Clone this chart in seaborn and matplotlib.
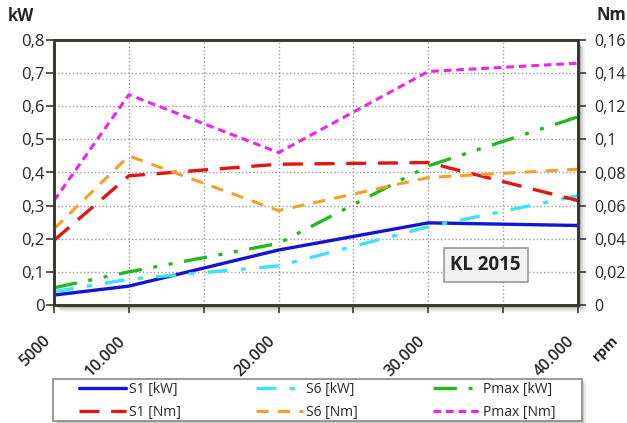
import pandas as pd
import matplotlib.pyplot as plt
import matplotlib.patches as mpatches
import seaborn as sns

# Data
rpm = [5000, 10000, 20000, 30000, 40000]
s1_kw = [0.030, 0.057, 0.166, 0.248, 0.240]
s6_kw = [0.040, 0.078, 0.118, 0.236, 0.330]
pmax_kw = [0.052, 0.100, 0.186, 0.420, 0.568]
s1_nm = [0.039, 0.078, 0.085, 0.086, 0.063]
s6_nm = [0.046, 0.090, 0.057, 0.077, 0.082]
pmax_nm = [0.063, 0.127, 0.092, 0.141, 0.146]

x_ticks = [5000, 10000, 20000, 30000, 40000]
x_labels = ["5000", "10.000", "20.000", "30.000", "40.000"]
kw_ticks = [0, 0.1, 0.2, 0.3, 0.4, 0.5, 0.6, 0.7, 0.8]
kw_labels = ["0", "0,1", "0,2", "0,3", "0,4", "0,5", "0,6", "0,7", "0,8"]
nm_ticks = [0, 0.02, 0.04, 0.06, 0.08, 0.10, 0.12, 0.14, 0.16]
nm_labels = ["0", "0,02", "0,04", "0,06", "0,08", "0,1", "0,12", "0,14", "0,16"]

df = pd.DataFrame({"rpm": rpm, "s1_kw": s1_kw, "s6_kw": s6_kw, "pmax_kw": pmax_kw,
                   "s1_nm": s1_nm, "s6_nm": s6_nm, "pmax_nm": pmax_nm})

plt.close("all")
sns.set_style("white")
plt.rcParams["font.family"] = ["Open Sans", "DejaVu Sans"]

W, H = 627, 423
fig = plt.figure(figsize=(W / 100, H / 100), dpi=100)
L, R, T, B = 54, 578, 40, 305
ax = fig.add_axes([L / W, 1 - B / H, (R - L) / W, (B - T) / H])
ax.set_zorder(2)


def shadow_box(x0, y0, x1, y1, offs=((7, 0.06), (5, 0.10), (3, 0.16))):
    # soft grey drop shadow, pixel coords from top-left
    for off, a in offs:
        fig.patches.append(mpatches.Rectangle(((x0 + off) / W, 1 - (y1 + off) / H),
                                              (x1 - x0) / W, (y1 - y0) / H,
                                              transform=fig.transFigure, fc="black",
                                              ec="none", alpha=a, zorder=0))


shadow_box(L, T, R, B)

ax2 = ax.twinx()

# kW series on left axis
sns.lineplot(data=df, x="rpm", y="s1_kw", ax=ax, color="#1414d2", lw=2.4, label="S1 [kW]")
sns.lineplot(data=df, x="rpm", y="s6_kw", ax=ax, color="#3ae4f2", lw=2.4,
             linestyle=(0, (6, 4, 1.5, 4)), label="S6 [kW]")
sns.lineplot(data=df, x="rpm", y="pmax_kw", ax=ax, color="#22b822", lw=2.4,
             linestyle=(0, (7, 3.5, 1.2, 3.5, 1.2, 3.5)), label="Pmax [kW]")
# Nm series on right axis
sns.lineplot(data=df, x="rpm", y="s1_nm", ax=ax2, color="#e31414", lw=2.4,
             linestyle=(0, (6, 3.5)), label="S1 [Nm]")
sns.lineplot(data=df, x="rpm", y="s6_nm", ax=ax2, color="#f5a023", lw=2.2,
             linestyle=(0, (4, 3)), label="S6 [Nm]")
sns.lineplot(data=df, x="rpm", y="pmax_nm", ax=ax2, color="#ec24ec", lw=2.2,
             linestyle=(0, (2.5, 1.6)), label="Pmax [Nm]")

ax.set_xlim(5000, 40000)
ax.set_ylim(0, 0.8)
ax2.set_ylim(0, 0.16)
ax.set_xticks(x_ticks)
ax.set_xticks([15000, 25000, 35000], minor=True)
ax.set_xticklabels(x_labels, rotation=45, ha="right", fontsize=11.5, fontweight="semibold")
ax.set_yticks(kw_ticks)
ax.set_yticklabels(kw_labels, fontsize=12)
ax2.set_yticks(nm_ticks)
ax2.set_yticklabels(nm_labels, fontsize=11.5)
ax.set_xlabel("")
ax.set_ylabel("")
ax2.set_ylabel("")

ax.grid(True, which="both", axis="x", color="#9a9a9a", linestyle=":", lw=1)
ax.grid(True, axis="y", color="#9a9a9a", linestyle=":", lw=1)
for a in (ax, ax2):
    for s in a.spines.values():
        s.set_color("#3a3a30")
        s.set_linewidth(2)
ax.tick_params(axis="both", which="both", direction="out", length=6, width=1.2,
               color="#3a3a30", left=True, bottom=True)
ax.tick_params(axis="x", pad=14)
ax.tick_params(axis="y", pad=1)
ax2.tick_params(axis="y", direction="out", length=6, width=1.2, color="#3a3a30",
                right=True, pad=6)

# legend: own frame + unframed legend placed inside it
ax.get_legend().remove()
ax2.get_legend().remove()
h1, l1 = ax.get_legend_handles_labels()
h2, l2 = ax2.get_legend_handles_labels()
handles = [h1[0], h2[0], h1[1], h2[1], h1[2], h2[2]]
labels = [l1[0], l2[0], l1[1], l2[1], l1[2], l2[2]]

shadow_box(53, 379, 582, 421, offs=((4, 0.08), (2, 0.14)))
fig.patches.append(mpatches.Rectangle((53 / W, 1 - 421 / H), 529 / W, 42 / H,
                                      transform=fig.transFigure, fc="white",
                                      ec="#8a8a80", lw=1.2, zorder=1))
leg = fig.legend(handles, labels, ncol=3, loc="upper left",
                 bbox_to_anchor=(79 / W, 1 - 382 / H), frameon=False,
                 fontsize=10, handlelength=3.4, handletextpad=0.2, borderpad=0,
                 labelspacing=0.55, columnspacing=5.4, borderaxespad=0)
leg.set_zorder(3)

# annotation box
shadow_box(443, 249, 529, 280, offs=((4, 0.08), (2, 0.14)))
ax2.text(0.824, 0.151, "KL 2015", transform=ax2.transAxes, ha="center", va="center",
         fontsize=13.5, fontweight="bold", color="#222222", zorder=5,
         bbox=dict(boxstyle="square,pad=0.35", fc="#f2f2f2", ec="#9a9a9a", lw=1.2))

# unit labels
fig.text(8 / W, 1 - 16 / H, "kW", fontsize=12, fontweight="bold", va="center", ha="left")
fig.text(596 / W, 1 - 15 / H, "Nm", fontsize=12, fontweight="bold", va="center", ha="left")
fig.text(606 / W, 1 - 348 / H, "rpm", fontsize=10.5, fontweight="bold", rotation=45,
         va="center", ha="center")

fig.savefig("out.png", dpi=100, facecolor="white")
